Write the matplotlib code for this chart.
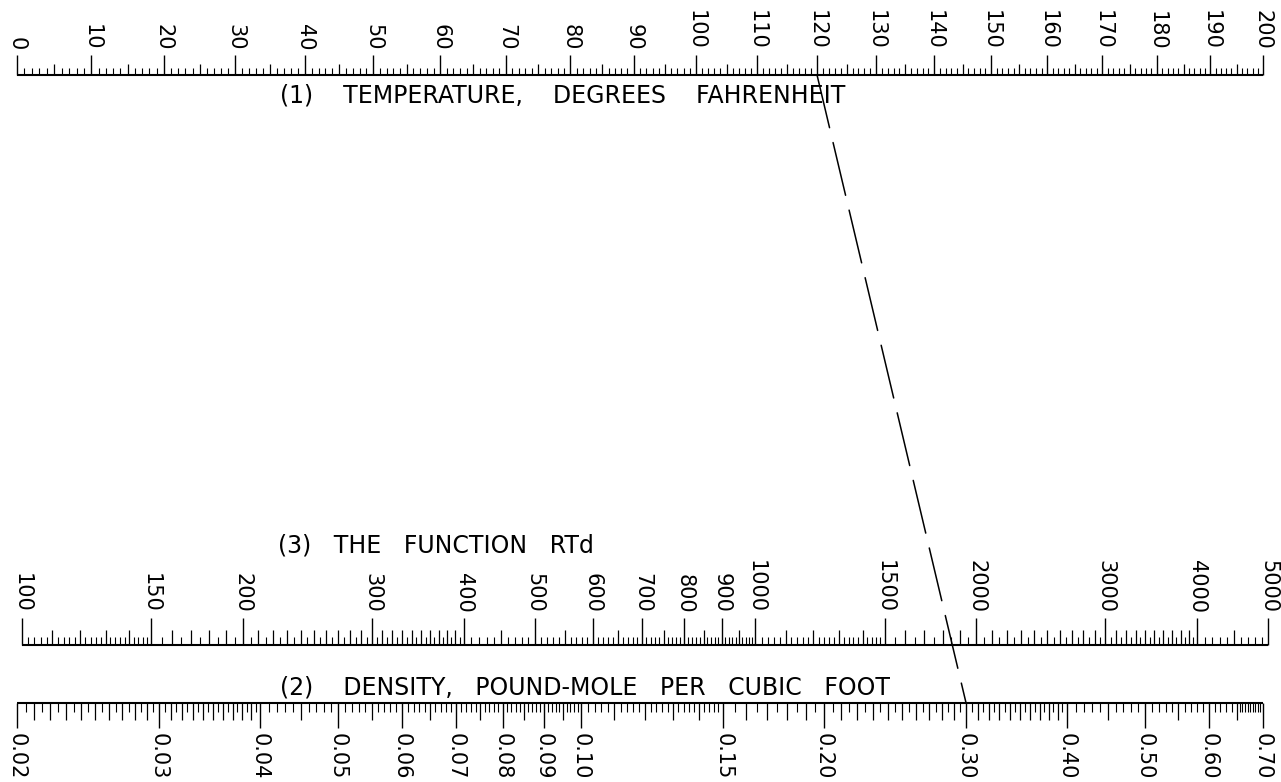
import numpy as np
import matplotlib
matplotlib.use("Agg")
import matplotlib.pyplot as plt
from matplotlib.ticker import FixedLocator, FixedFormatter, NullFormatter, NullLocator
from matplotlib.patches import ConnectionPatch

# ---------------- data ----------------
# (1) temperature scale, degrees Fahrenheit (scale ~ log(T + 460))
temp_labels = [0, 10, 20, 30, 40, 50, 60, 70, 80, 90, 100,
               110, 120, 130, 140, 150, 160, 170, 180, 190, 200]
temp_label_text = [str(v) for v in temp_labels]

# (3) the function RTd (log scale)
rtd_labels = [100, 150, 200, 300, 400, 500, 600, 700, 800, 900,
              1000, 1500, 2000, 3000, 4000, 5000]
rtd_label_text = [str(v) for v in rtd_labels]

# (2) density, pound-mole per cubic foot (log scale)
dens_labels = [0.02, 0.03, 0.04, 0.05, 0.06, 0.07, 0.08, 0.09, 0.10,
               0.15, 0.20, 0.30, 0.40, 0.50, 0.60, 0.70]
dens_label_text = ["0.02", "0.03", "0.04", "0.05", "0.06", "0.07", "0.08",
                   "0.09", "0.10", "0.15", "0.20", "0.30", "0.40", "0.50",
                   "0.60", "0.70"]

# example reading (dashed key line)
example_temp = 120
example_density = 0.30

titles = ["(1)    TEMPERATURE,    DEGREES    FAHRENHEIT",
          "(3)   THE   FUNCTION   RTd",
          "(2)    DENSITY,   POUND-MOLE   PER   CUBIC   FOOT"]


# ---------------- tick graduations ----------------
def grad(segments, exclude):
    vals = []
    for lo, hi, step in segments:
        n = int(round((hi - lo) / step))
        vals.extend(lo + step * np.arange(n + 1))
    vals = np.unique(np.round(vals, 6))
    ex = set(np.round(exclude, 6))
    return [v for v in vals if v not in ex]


temp_med = grad([(0, 200, 5)], temp_labels)
temp_small = grad([(0, 200, 1)], temp_labels + temp_med)

rtd_med = grad([(100, 400, 10), (400, 1000, 50), (1000, 4000, 100),
                (4000, 5000, 500)], rtd_labels)
rtd_small = grad([(100, 150, 2), (150, 400, 5), (400, 1000, 10),
                  (1000, 1500, 20), (1500, 4000, 50), (4000, 5000, 100)],
                 rtd_labels + rtd_med)

dens_med = grad([(0.02, 0.04, 0.001), (0.04, 0.10, 0.005), (0.10, 0.15, 0.01),
                 (0.15, 0.40, 0.01), (0.40, 0.60, 0.05), (0.60, 0.70, 0.05)],
                dens_labels)
dens_small = grad([(0.02, 0.04, 0.0005), (0.04, 0.10, 0.001), (0.10, 0.15, 0.002),
                   (0.15, 0.40, 0.005), (0.40, 0.65, 0.01), (0.65, 0.70, 0.005)],
                  dens_labels + dens_med)

# ---------------- figure ----------------
W, H = 1281, 782
fig = plt.figure(figsize=(W / 100, H / 100), dpi=100)
fig.patch.set_facecolor("white")


def fx(p):
    return p / W


def fy(p):
    return 1 - p / H


TICK_FS = 15
PX = 0.72  # points per pixel


def scale_axes(x0, x1, yline, side, scale, xlim, majors, labels, meds, smalls,
               lens):
    rect_h = 0.001
    if side == "top":
        rect = [fx(x0), fy(yline) - rect_h, fx(x1) - fx(x0), rect_h]
    else:
        rect = [fx(x0), fy(yline), fx(x1) - fx(x0), rect_h]
    ax = fig.add_axes(rect)
    axm = fig.add_axes(rect)
    for a in (ax, axm):
        if scale == "temp":
            a.set_xscale("function", functions=(lambda t: np.log(np.asarray(t) + 460.0),
                                                lambda u: np.exp(u) - 460.0))
        else:
            a.set_xscale("log")
        a.set_xlim(*xlim)
        a.set_ylim(0, 1)
        a.patch.set_visible(False)
        for s in a.spines.values():
            s.set_visible(False)
        a.yaxis.set_major_locator(NullLocator())
        a.yaxis.set_minor_locator(NullLocator())
        a.xaxis.set_ticks_position(side)
    ax.spines[side].set_visible(True)
    ax.spines[side].set_linewidth(1.5)
    ax.spines[side].set_capstyle("butt")

    ax.xaxis.set_major_locator(FixedLocator(majors))
    ax.xaxis.set_major_formatter(FixedFormatter(labels))
    ax.xaxis.set_minor_locator(FixedLocator(smalls))
    ax.xaxis.set_minor_formatter(NullFormatter())
    top = side == "top"
    ax.tick_params(axis="x", which="major", direction="out", length=lens[0] * PX,
                   width=1.0, labelsize=TICK_FS, pad=3.5, labelrotation=-90,
                   top=top, bottom=not top, labeltop=top, labelbottom=not top)
    ax.tick_params(axis="x", which="minor", direction="out", length=lens[2] * PX,
                   width=0.8, top=top, bottom=not top)

    axm.xaxis.set_major_locator(FixedLocator(meds))
    axm.xaxis.set_major_formatter(NullFormatter())
    axm.xaxis.set_minor_locator(NullLocator())
    axm.tick_params(axis="x", which="major", direction="out", length=lens[1] * PX,
                    width=0.9, top=top, bottom=not top, labeltop=False,
                    labelbottom=False)
    return ax


ax_top = scale_axes(17, 1263, 75, "top", "temp", (0, 200),
                    temp_labels, temp_label_text, temp_med, temp_small,
                    (20, 11, 7))
ax_mid = scale_axes(22, 1268, 645, "top", "log", (100, 5000),
                    rtd_labels, rtd_label_text, rtd_med, rtd_small,
                    (27, 15, 8))
ax_bot = scale_axes(17, 1263, 703, "bottom", "log", (0.02, 0.70),
                    dens_labels, dens_label_text, dens_med, dens_small,
                    (25, 17, 9))

# scale titles
TITLE_FS = 17
fig.text(fx(280), fy(102), titles[0], fontsize=TITLE_FS, ha="left", va="baseline")
fig.text(fx(278), fy(553), titles[1], fontsize=TITLE_FS, ha="left", va="baseline")
fig.text(fx(280), fy(695), titles[2], fontsize=TITLE_FS, ha="left", va="baseline")

# dashed key line: temperature 120 F -> density 0.30
lw = 1.1
con = ConnectionPatch(xyA=(example_temp, 1), coordsA=ax_top.get_xaxis_transform(),
                      xyB=(example_density, 0), coordsB=ax_bot.get_xaxis_transform(),
                      color="black", linewidth=lw,
                      linestyle=(0, (39 / lw, 11 / lw)))
fig.add_artist(con)

fig.savefig("out.png", dpi=100, facecolor="white")
